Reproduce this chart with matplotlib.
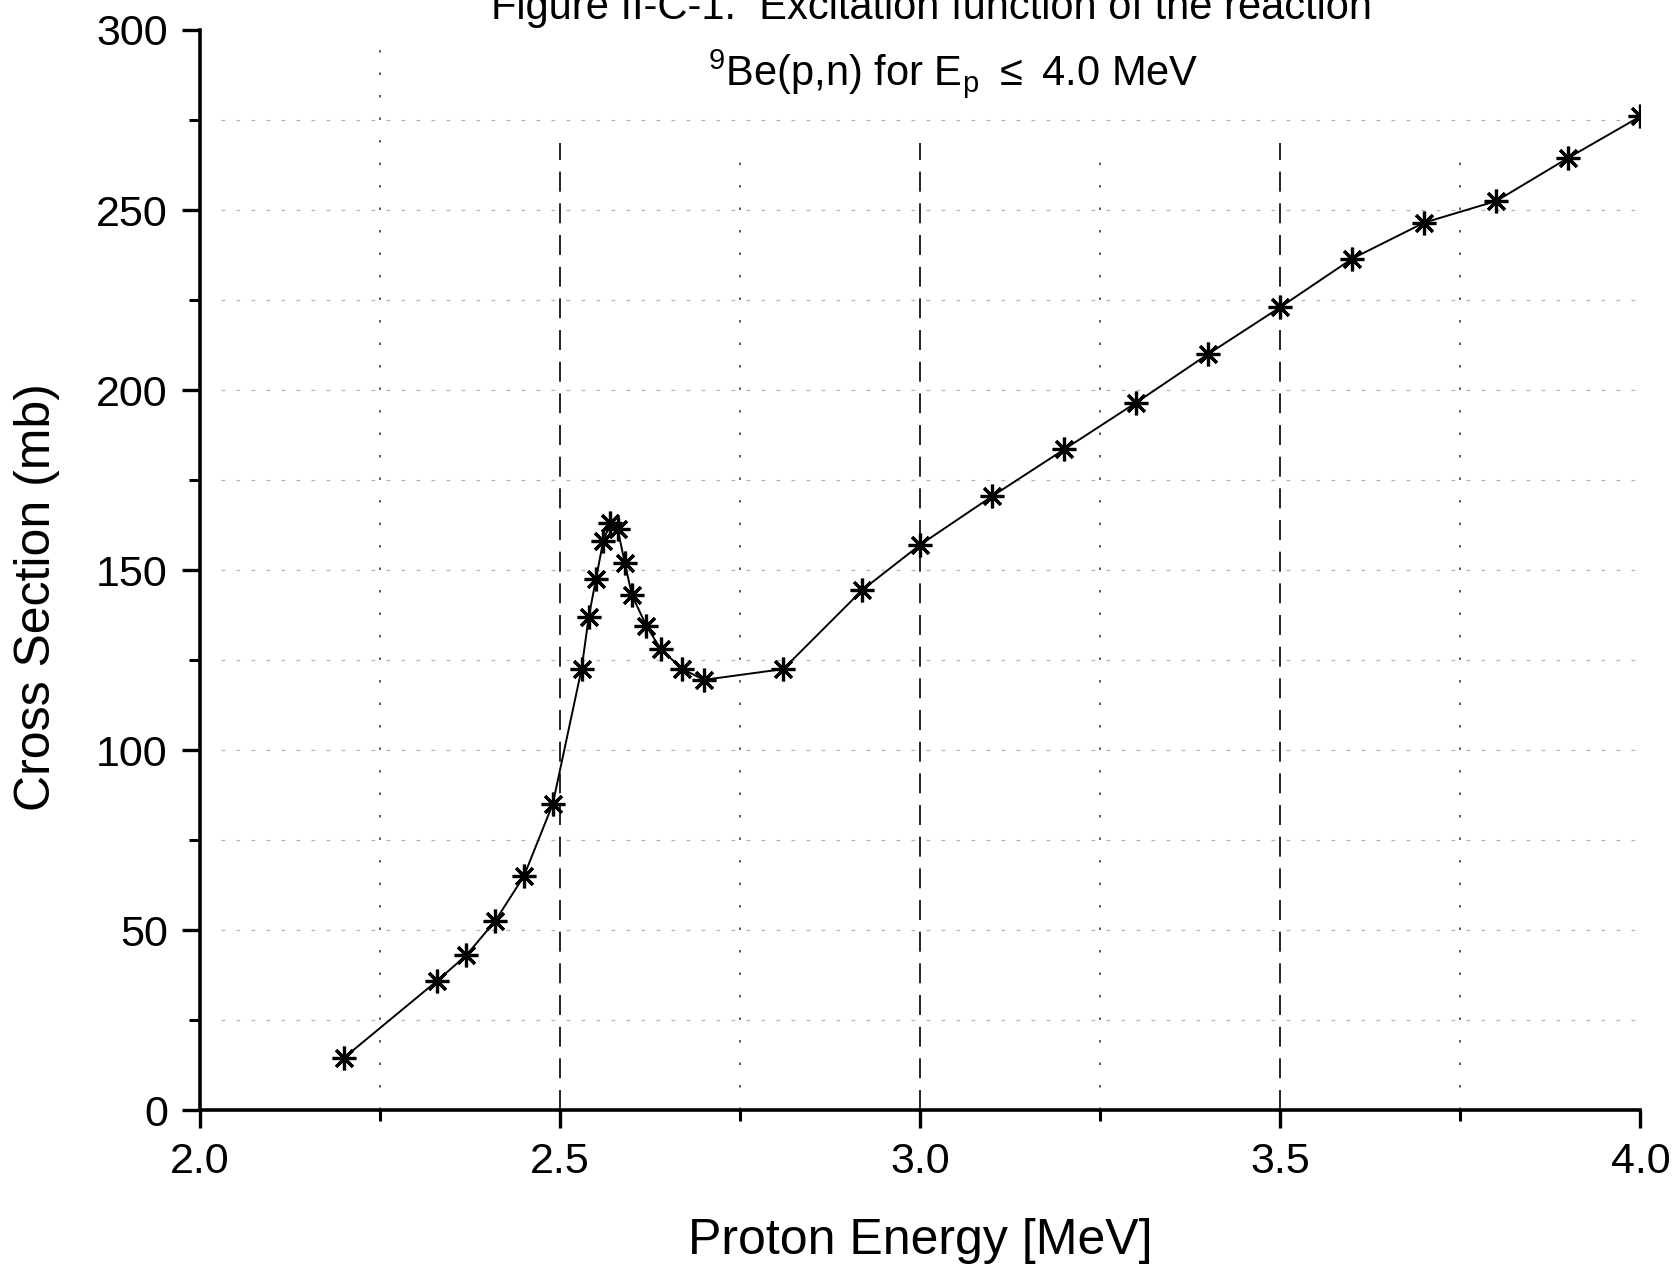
import numpy as np
import matplotlib.pyplot as plt
from matplotlib.ticker import MultipleLocator, FormatStrFormatter

plt.rcParams['font.family'] = ['Liberation Sans', 'DejaVu Sans']
plt.rcParams['mathtext.fontset'] = 'custom'
plt.rcParams['mathtext.rm'] = 'Liberation Sans'
plt.rcParams['mathtext.default'] = 'regular'

# Proton energy (MeV) and cross section (mb)
energy = [2.20, 2.33, 2.37, 2.41, 2.45, 2.49, 2.53, 2.54, 2.55, 2.56,
          2.57, 2.58, 2.59, 2.60, 2.62, 2.64, 2.67, 2.70, 2.81, 2.92,
          3.00, 3.10, 3.20, 3.30, 3.40, 3.50, 3.60, 3.70, 3.80, 3.90, 4.00]
sigma = [14.5, 36.0, 43.0, 52.5, 65.0, 85.0, 122.5, 137.0, 147.5, 158.0,
         163.0, 161.5, 152.0, 143.0, 134.5, 128.0, 122.5, 119.5, 122.5, 144.5,
         157.0, 170.5, 183.5, 196.5, 210.0, 223.0, 236.5, 246.5, 252.5, 264.5, 276.0]

fig = plt.figure(figsize=(16.79, 12.76), dpi=100)
ax = fig.add_axes([0.119, 0.130, 0.858, 0.8465])

# grid: dashed at major x, dotted at minor x, faint horizontal lines every 25 mb
# (vertical lines stop below the title, except the first dotted one)
for xv in [2.5, 3.0, 3.5]:
    ax.axvline(xv, ymax=0.895, color='black', lw=1.2, ls=(0, (12, 7)), zorder=1)
for xv in [2.25, 2.75, 3.25, 3.75]:
    top = 0.99 if xv == 2.25 else 0.895
    ax.axvline(xv, ymax=top, color='0.25', lw=1.2, ls=(0, (1.5, 12)), zorder=1)
for yv in np.arange(25, 300, 25):
    ax.axhline(yv, xmin=0.015, color='0.7', lw=0.9, ls=(0, (3, 9)), zorder=1)

ax.plot(energy, sigma, color='black', lw=1.4, marker=(8, 2, 0),
        markersize=17, markeredgewidth=2.3, zorder=3)

ax.set_xlim(2.0, 4.0)
ax.set_ylim(0, 300)
ax.xaxis.set_major_locator(MultipleLocator(0.5))
ax.xaxis.set_minor_locator(MultipleLocator(0.25))
ax.xaxis.set_major_formatter(FormatStrFormatter('%.1f'))
ax.yaxis.set_major_locator(MultipleLocator(50))
ax.yaxis.set_minor_locator(MultipleLocator(25))

for side in ['top', 'right']:
    ax.spines[side].set_visible(False)
for side in ['left', 'bottom']:
    ax.spines[side].set_linewidth(2.6)

ax.tick_params(which='major', direction='out', length=13, width=2.4,
               labelsize=31, pad=10)
ax.tick_params(which='minor', direction='out', length=8, width=2.2)

ax.set_xlabel('Proton Energy [MeV]', fontsize=36)
ax.set_ylabel('Cross Section (mb)', fontsize=36)
ax.xaxis.set_label_coords(0.5, -0.10)
ax.yaxis.set_label_coords(-0.097, 0.475)

fig.text(0.555, 0.985, 'Figure II-C-1.  Excitation function of the reaction',
         fontsize=30, ha='center', va='baseline')
fig.text(0.568, 0.933, r'$^{9}$Be(p,n) for E$_{p}$ $\leq$ 4.0 MeV',
         fontsize=30, ha='center', va='baseline')

fig.savefig('out.png', dpi=100)
